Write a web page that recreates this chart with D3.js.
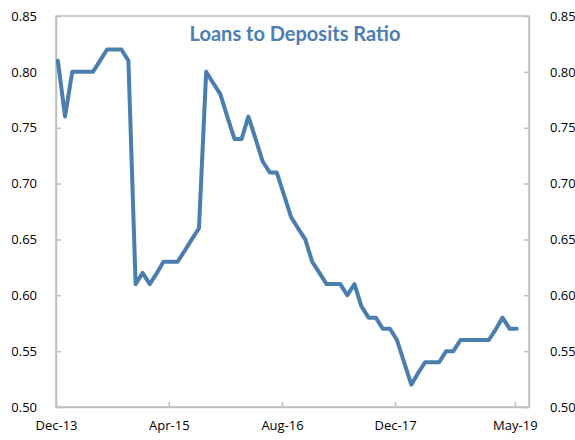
<!DOCTYPE html>
<html>
<head>
<meta charset="utf-8">
<script src="https://cdn.jsdelivr.net/npm/d3@7"></script>
<style>
  body { margin: 0; background: #fff; }
  text { font-family: "Open Sans", sans-serif; }
</style>
</head>
<body>
<svg id="chart" width="575" height="440"></svg>
<script>
// monthly ratio, Dec-13 .. May-19
const startMonth = new Date(2013, 11, 1);
const ratio = [
    0.81, 0.76, 0.80, 0.80, 0.80, 0.80, 0.81, 0.82, 0.82, 0.82,
    0.81, 0.61, 0.62, 0.61, 0.62, 0.63, 0.63, 0.63, 0.64, 0.65,
    0.66, 0.80, 0.79, 0.78, 0.76, 0.74, 0.74, 0.76, 0.74, 0.72,
    0.71, 0.71, 0.69, 0.67, 0.66, 0.65, 0.63, 0.62, 0.61, 0.61,
    0.61, 0.60, 0.61, 0.59, 0.58, 0.58, 0.57, 0.57, 0.56, 0.54,
    0.52, 0.53, 0.54, 0.54, 0.54, 0.55, 0.55, 0.56, 0.56, 0.56,
    0.56, 0.56, 0.57, 0.58, 0.57, 0.57
];
const xTickLabels = ["Dec-13", "Apr-15", "Aug-16", "Dec-17", "May-19"];
const xTickDates = [new Date(2013, 11, 1), new Date(2015, 3, 1), new Date(2016, 7, 1),
    new Date(2017, 11, 1), new Date(2019, 4, 1)];
const yTicks = [0.50, 0.55, 0.60, 0.65, 0.70, 0.75, 0.80, 0.85];

const data = ratio.map((v, i) => ({
    date: d3.timeDay.offset(d3.timeMonth.offset(startMonth, i), 8),
    value: v
}));

const svg = d3.select("#chart"),
    margin = { top: 16, right: 46, bottom: 33, left: 56 },
    width = +svg.attr("width") - margin.left - margin.right,
    height = +svg.attr("height") - margin.top - margin.bottom;

const g = svg.append("g").attr("transform", `translate(${margin.left},${margin.top})`);

const x = d3.scaleTime()
    .domain([new Date(2013, 11, 1), new Date(2019, 6, 1)])
    .range([0, width]);
const y = d3.scaleLinear().domain([0.50, 0.85]).range([height, 0]);

const gray = "#bfbfbf";

// plot border
g.append("rect")
    .attr("width", width)
    .attr("height", height)
    .attr("fill", "none")
    .attr("stroke", gray)
    .attr("stroke-width", 1.5);

const fmt = d3.format(".2f");

const yLeft = g.append("g")
    .call(d3.axisLeft(y).tickValues(yTicks).tickFormat(fmt).tickSizeInner(-5).tickSizeOuter(0).tickPadding(19));
const yRight = g.append("g")
    .attr("transform", `translate(${width},0)`)
    .call(d3.axisRight(y).tickValues(yTicks).tickFormat(fmt).tickSizeInner(-5).tickSizeOuter(0).tickPadding(21));
const xAxis = g.append("g")
    .attr("transform", `translate(0,${height})`)
    .call(d3.axisBottom(x).tickValues(xTickDates)
        .tickFormat((d, i) => xTickLabels[i]).tickSizeInner(-5).tickSizeOuter(0).tickPadding(14));

[yLeft, yRight, xAxis].forEach(a => {
    a.select(".domain").attr("stroke", gray).attr("stroke-width", 1.5);
    a.selectAll(".tick line").attr("stroke", gray).attr("stroke-width", 1.5);
    a.selectAll(".tick text").attr("fill", "#000").style("font-size", "13px");
});

const line = d3.line()
    .x(d => x(d.date))
    .y(d => y(d.value));

g.append("path")
    .datum(data)
    .attr("d", line)
    .attr("fill", "none")
    .attr("stroke", "#4a7eae")
    .attr("stroke-width", 4)
    .attr("stroke-linejoin", "round")
    .attr("stroke-linecap", "round");

svg.append("text")
    .attr("x", 295)
    .attr("y", 41)
    .attr("text-anchor", "middle")
    .attr("fill", "#4a7eb4")
    .style("font-family", "Lato, sans-serif")
    .style("font-weight", "bold")
    .style("font-size", "20px")
    .text("Loans to Deposits Ratio");
</script>
</body>
</html>
